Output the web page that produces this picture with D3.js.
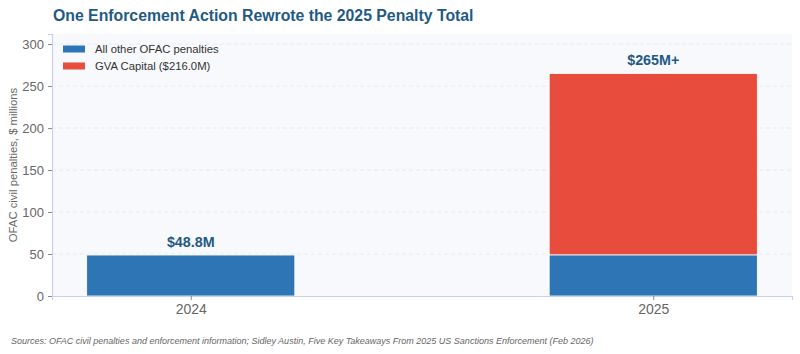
<!DOCTYPE html>
<html><head><meta charset="utf-8">
<script src="https://cdn.jsdelivr.net/npm/d3@7"></script>
<style>body{margin:0;background:#fff;font-family:"Liberation Sans",Arial,sans-serif}</style>
</head><body><svg id="c" width="800" height="354"></svg>
<script>
const years = ["2024", "2025"];
const otherPenalties = [48.8, 49.0];
const gvaCapital = [0, 216.0];
const totalLabels = ["$48.8M", "$265M+"];
const seriesNames = ["All other OFAC penalties", "GVA Capital ($216.0M)"];
const seriesColors = ["#2e75b6", "#e74c3c"];
const yTicks = [0, 50, 100, 150, 200, 250, 300];

const svg = d3.select("#c");
const L = 52, R = 792, T = 34, B = 296;
const x = d3.scaleLinear().domain([-0.3, 1.3]).range([L, R]);
const y = d3.scaleLinear().domain([0, 312]).range([B, T]);
const bw = 0.45;

svg.append("rect").attr("x", L).attr("y", T).attr("width", R - L).attr("height", B - T).attr("fill", "#f8f9fc");

svg.append("g").selectAll("line").data(yTicks.filter(d => d > 0)).join("line")
  .attr("x1", L).attr("x2", R).attr("y1", d => y(d)).attr("y2", d => y(d))
  .attr("stroke", "#e3e6ee").attr("stroke-width", 0.8).attr("stroke-dasharray", "4,3");

const stacks = [otherPenalties, gvaCapital];
years.forEach((yr, i) => {
  let base = 0;
  stacks.forEach((s, k) => {
    const v = s[i];
    if (v > 0) {
      svg.append("rect")
        .attr("x", x(i - bw / 2)).attr("width", x(bw) - x(0))
        .attr("y", y(base + v)).attr("height", y(base) - y(base + v))
        .attr("fill", seriesColors[k]).attr("stroke", "#fff").attr("stroke-width", 0.8);
    }
    base += v;
  });
  svg.append("text").attr("x", x(i)).attr("y", y(base) - 8)
    .attr("text-anchor", "middle").attr("font-size", 14.3).attr("font-weight", "bold")
    .attr("fill", "#1f5a85").text(totalLabels[i]);
});

// axes
const ya = svg.append("g").attr("transform", `translate(${L},0)`)
  .call(d3.axisLeft(y).tickValues(yTicks).tickSize(4).tickPadding(4));
ya.select(".domain").attr("stroke", "#c5d3ea").attr("stroke-width", 1.2);
ya.selectAll(".tick line").attr("stroke", "#888");
ya.selectAll("text").attr("font-size", 13).attr("fill", "#666").attr("font-family", "Liberation Sans, Arial, sans-serif");

const xa = svg.append("g").attr("transform", `translate(0,${B})`)
  .call(d3.axisBottom(x).tickValues([0, 1]).tickFormat(d => years[d]).tickSize(4).tickPadding(4));
xa.select(".domain").attr("stroke", "#c5d3ea").attr("stroke-width", 1.2);
xa.selectAll(".tick line").attr("stroke", "#888");
xa.selectAll("text").attr("font-size", 14).attr("fill", "#666").attr("font-family", "Liberation Sans, Arial, sans-serif");

svg.append("text").attr("transform", `translate(17,${(T + B) / 2}) rotate(-90)`)
  .attr("text-anchor", "middle").attr("font-size", 11.3).attr("fill", "#666")
  .text("OFAC civil penalties, $ millions");

// legend
seriesNames.forEach((n, k) => {
  const ly = 49 + k * 17;
  svg.append("rect").attr("x", 63).attr("y", ly - 3.5).attr("width", 22).attr("height", 7).attr("fill", seriesColors[k]);
  svg.append("text").attr("x", 95).attr("y", ly + 4).attr("font-size", 11.3).attr("fill", "#333").text(n);
});

svg.append("text").attr("x", 53).attr("y", 21).attr("font-size", 15.8).attr("font-weight", "bold")
  .attr("fill", "#1f5a85").text("One Enforcement Action Rewrote the 2025 Penalty Total");

svg.append("text").attr("x", 11).attr("y", 344).attr("font-size", 9).attr("font-style", "italic")
  .attr("fill", "#666").text("Sources: OFAC civil penalties and enforcement information; Sidley Austin, Five Key Takeaways From 2025 US Sanctions Enforcement (Feb 2026)");
</script></body></html>
